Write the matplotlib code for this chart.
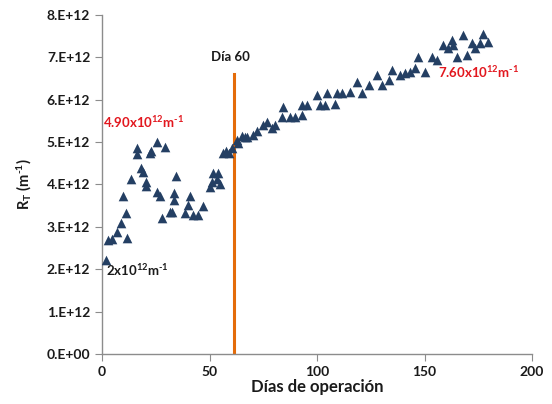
import matplotlib
matplotlib.use('Agg')
import matplotlib.pyplot as plt
from matplotlib.ticker import FuncFormatter

plt.rcParams['font.family'] = ['Lato', 'DejaVu Sans']
plt.rcParams['font.weight'] = 'bold'
plt.rcParams['axes.labelweight'] = 'bold'
plt.rcParams['mathtext.fontset'] = 'custom'
plt.rcParams['mathtext.rm'] = 'Lato:bold'
plt.rcParams['mathtext.it'] = 'Lato:bold'
plt.rcParams['mathtext.bf'] = 'Lato:bold'

# Operating days and total resistance (m^-1)
dias = [2, 2.8, 4.7, 7.1, 8.7, 9.8, 11.3, 11.8, 13.6, 16, 16.4, 18, 18.8,
        20.3, 20.6, 22.2, 22.6, 25.3, 25.7, 26.8, 27.9, 29.1, 31.4, 32.4,
        33.5, 33.6, 34.4, 38.6, 40.1, 40.9, 42.2, 44.8, 47.1, 50.2, 51,
        51.8, 53.3, 54.1, 54.6, 56.4, 57.7, 59.2, 60.3, 62.6, 63.4, 65,
        66.5, 67.3, 70.4, 72, 75, 76.6, 78.9, 80.5, 83.6, 84.3, 87.4, 89.8,
        92.9, 92.9, 95.2, 99.9, 101.4, 103.7, 104.5, 108.4, 109.2, 111.5,
        115.3, 118.5, 120.8, 123.9, 127.8, 130.1, 133.2, 134.7, 138.6,
        140.9, 143.3, 145.6, 147.1, 150.2, 153.3, 155.7, 158.7, 161.1,
        162.6, 163.4, 165, 168, 169.6, 172, 173.5, 175.8, 177.3, 179.7]
rt = [2.22, 2.69, 2.71, 2.88, 3.10, 3.73, 3.33, 2.73, 4.12, 4.85, 4.72,
      4.38, 4.30, 3.96, 4.06, 4.73, 4.79, 5.01, 3.83, 3.73, 3.20, 4.89,
      3.36, 3.36, 3.63, 3.79, 4.20, 3.32, 3.51, 3.72, 3.28, 3.28, 3.49,
      3.95, 4.06, 4.28, 4.12, 4.26, 4.02, 4.73, 4.80, 4.73, 4.85, 5.05,
      4.97, 5.14, 5.12, 5.12, 5.17, 5.25, 5.40, 5.48, 5.32, 5.40, 5.60,
      5.83, 5.60, 5.60, 5.64, 5.87, 5.87, 6.11, 5.87, 5.87, 6.15, 5.91,
      6.15, 6.15, 6.19, 6.42, 6.15, 6.34, 6.58, 6.34, 6.46, 6.70, 6.58,
      6.62, 6.66, 6.74, 7.01, 6.66, 7.01, 6.93, 7.29, 7.21, 7.41, 7.29,
      7.01, 7.52, 7.05, 7.33, 7.21, 7.33, 7.56, 7.37]
rt = [v * 1e12 for v in rt]

dia_corte = 61.5
tope_linea = 6.6e12

fig = plt.figure(figsize=(5.52, 4.04), dpi=100)
ax = fig.add_axes([0.185, 0.124, 0.779, 0.839])

ax.scatter(dias, rt, marker='^', s=48, color='#243F63', zorder=3, linewidths=0)
ax.plot([dia_corte, dia_corte], [0, tope_linea], color='#E46C0A', lw=2.2, zorder=2)

ax.set_xlim(0, 200)
ax.set_ylim(0, 8e12)
ax.set_xticks([0, 50, 100, 150, 200])
ax.set_yticks([i * 1e12 for i in range(9)])
ax.yaxis.set_major_formatter(FuncFormatter(
    lambda v, p: '0.E+00' if v == 0 else f'{int(round(v / 1e12))}.E+12'))

for s in ['top', 'right']:
    ax.spines[s].set_visible(False)
for s in ['left', 'bottom']:
    ax.spines[s].set_color('#8C8C8C')
    ax.spines[s].set_linewidth(1.0)
ax.tick_params(colors='#8C8C8C', labelcolor='#1A1A1A', length=5,
               labelsize=10)
for lbl in ax.get_xticklabels() + ax.get_yticklabels():
    lbl.set_fontweight('bold')

ax.set_xlabel('Días de operación', fontsize=12, color='#1A1A1A', labelpad=1)
ax.set_ylabel(r'R$_{T}$ (m$^{\text{-}1}$)', fontsize=10.5, color='#1A1A1A',
              labelpad=9)

ax.text(0.5, 5.47e12, r'4.90x10$^{12}$m$^{\text{-}1}$', color='#E2171E',
        fontsize=9.5, va='center')
ax.text(2, 1.97e12, r'2x10$^{12}$m$^{\text{-}1}$', color='#1A1A1A',
        fontsize=9.5, va='center')
ax.text(156, 6.65e12, r'7.60x10$^{12}$m$^{\text{-}1}$', color='#E2171E',
        fontsize=9.5, va='center')
ax.text(50.5, 7.0e12, 'Día 60', color='#1A1A1A', fontsize=9.5, va='center')

fig.savefig('out.png', dpi=100)
